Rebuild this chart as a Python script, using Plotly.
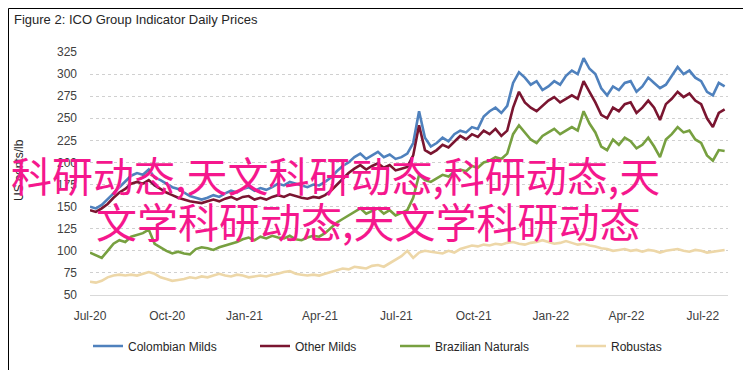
import pandas as pd
import plotly.graph_objects as go

# weekly sampling from 2020-07-01
start_date = "2020-07-01"

colombian_milds = [150,148,152,158,165,172,178,185,188,186,192,183,180,176,172,170,166,162,160,158,
                   160,163,161,165,168,166,170,172,168,171,169,172,176,174,178,176,174,172,175,174,
                   178,183,190,196,200,206,210,204,208,212,206,209,204,206,210,222,258,228,218,222,
                   228,224,232,236,234,240,238,252,258,262,256,264,290,302,296,288,292,282,286,292,
                   288,298,304,300,318,306,300,284,276,286,282,290,292,280,286,296,290,284,288,298,
                   308,300,304,296,292,280,276,290,286]
other_milds = [146,144,148,153,160,166,170,176,178,176,180,174,170,166,163,160,158,156,155,154,
               156,158,156,159,161,158,161,162,158,160,158,161,163,161,164,162,160,159,161,160,
               163,168,175,182,188,193,197,192,196,199,194,197,191,193,195,208,242,214,210,214,
               220,217,224,230,226,232,229,236,232,238,230,236,262,280,268,262,258,264,270,274,
               268,272,276,272,292,280,268,254,250,262,258,266,268,256,262,270,262,248,266,272,
               280,274,278,270,266,250,240,256,260]
brazilian_naturals = [98,95,92,100,108,112,110,116,118,120,124,108,104,100,97,99,97,96,102,104,
                      103,101,104,106,108,110,113,115,112,116,114,117,115,114,117,113,112,115,117,116,
                      120,126,132,136,140,144,148,142,145,148,142,146,140,143,146,160,186,180,178,182,
                      186,184,190,192,190,196,194,200,202,206,204,210,232,242,234,226,222,230,234,238,
                      232,236,240,236,258,244,234,218,214,226,220,228,224,216,220,228,218,206,226,232,
                      240,234,236,226,222,208,202,214,213]
robustas = [65,64,66,70,72,73,72,73,72,74,76,74,70,68,66,67,68,70,69,71,
            70,72,74,72,71,73,72,70,71,72,71,73,74,76,77,74,73,72,73,72,
            74,76,78,80,79,82,81,80,83,84,82,86,90,94,100,92,98,100,99,98,
            97,100,98,102,104,106,105,107,106,108,107,109,110,108,107,109,110,112,110,108,
            109,111,109,107,108,106,105,103,102,100,101,102,100,101,99,101,100,98,100,101,
            102,100,99,101,100,98,99,100,101]

series_names = ["Colombian Milds", "Other Milds", "Brazilian Naturals", "Robustas"]
series_colors = ["#4F81BD", "#7A1530", "#77A040", "#EDD7A8"]
y_ticks = [50, 75, 100, 125, 150, 175, 200, 225, 250, 275, 300, 325]
x_ticks = ["2020-07-01", "2020-10-01", "2021-01-01", "2021-04-01", "2021-07-01",
           "2021-10-01", "2022-01-01", "2022-04-01", "2022-07-01"]
x_tick_labels = ["Jul-20", "Oct-20", "Jan-21", "Apr-21", "Jul-21", "Oct-21", "Jan-22", "Apr-22", "Jul-22"]

title_text = "Figure 2: ICO Group Indicator Daily Prices"
y_title = "US cents/lb"
watermark_1 = "科研动态,天文科研动态,科研动态,天"
watermark_2 = "文学科研动态,天文学科研动态"

dates = pd.date_range(start_date, periods=len(colombian_milds), freq="7D")

W, H = 751, 370
ml, mr, mt, mb = 82, 31, 44, 83
pw, ph = W - ml - mr, H - mt - mb

def px_x(px):
    return (px - ml) / pw

def px_y(py):
    return (H - mb - py) / ph

legend_ids = ["legend", "legend2", "legend3", "legend4"]
legend_left_px = [80, 247, 387, 563]

fig = go.Figure()
for name, vals, col, lid in zip(series_names, [colombian_milds, other_milds, brazilian_naturals, robustas],
                                series_colors, legend_ids):
    fig.add_trace(go.Scatter(x=dates, y=vals, mode="lines", name=name, legend=lid,
                             line=dict(color=col, width=2.6)))

tick_font = dict(family="Liberation Sans, Arial, sans-serif", size=12, color="#404040")
legend_font = dict(family="Liberation Sans, Arial, sans-serif", size=12, color="#262626")

layout_legends = {}
for lid, lx in zip(legend_ids, legend_left_px):
    layout_legends[lid] = dict(orientation="h", x=px_x(lx), xanchor="left", y=px_y(338), yanchor="middle",
                               font=legend_font, itemwidth=30, bgcolor="rgba(0,0,0,0)")

fig.update_layout(
    width=W, height=H,
    margin=dict(l=ml, r=mr, t=mt, b=mb, autoexpand=False),
    paper_bgcolor="white", plot_bgcolor="white",
    showlegend=True,
    xaxis=dict(range=["2020-07-01", "2022-07-31"], tickvals=x_ticks, ticktext=x_tick_labels,
               showgrid=False, zeroline=False, showline=True, linecolor="#D9D9D9", linewidth=1,
               ticks="", tickfont=tick_font, ticklabelstandoff=10, automargin=False),
    yaxis=dict(range=[50, 325], tickvals=y_ticks, showgrid=True, gridcolor="#D0D0D0",
               griddash="dot", gridwidth=1, zeroline=False, showline=False, ticks="",
               tickfont=tick_font, ticklabelstandoff=12, automargin=False),
    annotations=[
        dict(text=title_text, xref="paper", yref="paper", x=px_x(4), y=px_y(12), xanchor="left", yanchor="middle",
             showarrow=False, font=dict(family="Liberation Sans, Arial, sans-serif", size=13, color="#262626")),
        dict(text=y_title, xref="paper", yref="paper", x=px_x(11), y=px_y(162), xanchor="center", yanchor="middle",
             textangle=-90, showarrow=False,
             font=dict(family="Liberation Sans, Arial, sans-serif", size=12, color="#262626")),
        dict(text=watermark_1, xref="paper", yref="paper", x=px_x(1), y=px_y(166), xanchor="left", yanchor="middle",
             showarrow=False, font=dict(family="Noto Sans CJK SC", size=41, color="#F5178D")),
        dict(text=watermark_2, xref="paper", yref="paper", x=px_x(86), y=px_y(212), xanchor="left", yanchor="middle",
             showarrow=False, font=dict(family="Noto Sans CJK SC", size=41, color="#F5178D")),
    ],
    shapes=[dict(type="rect", xref="paper", yref="paper", x0=px_x(0.5), x1=px_x(W - 0.5),
                 y0=px_y(H - 0.5), y1=px_y(0.5), line=dict(color="black", width=1), layer="above")],
    **layout_legends,
)

fig.write_html("out.html")
